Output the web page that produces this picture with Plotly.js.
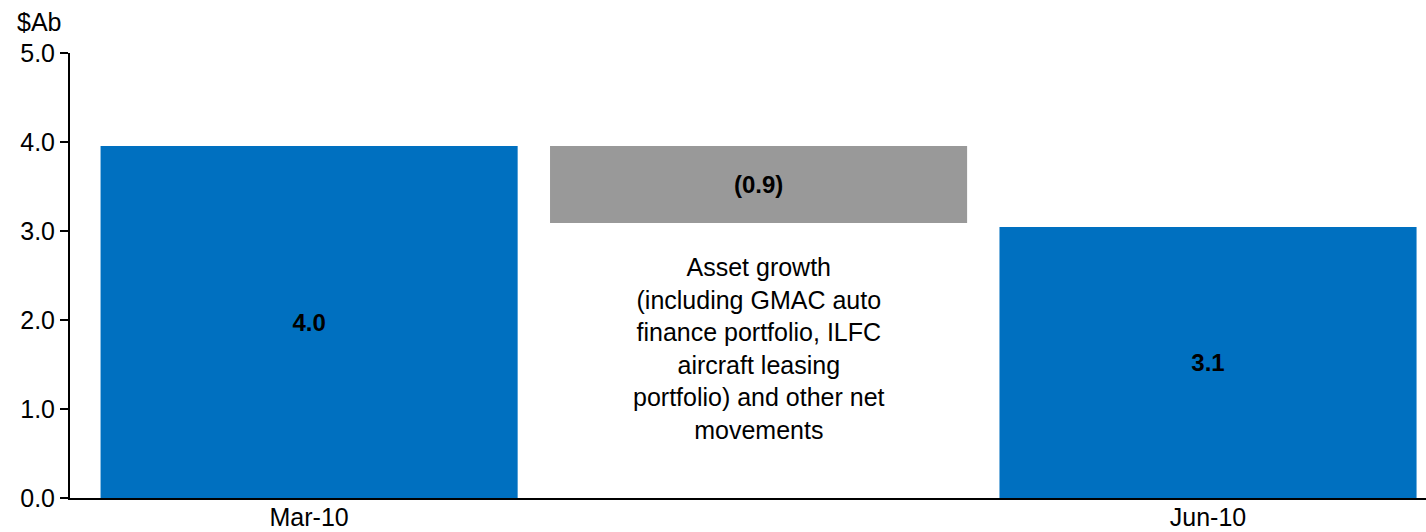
<!DOCTYPE html>
<html>
<head>
<meta charset="utf-8">
<script src="https://cdn.plot.ly/plotly-3.0.1.min.js"></script>
<style>html,body{margin:0;padding:0;background:#fff;}#chart{width:1426px;height:532px;}</style>
</head>
<body>
<div id="chart"></div>
<script>
// Data
const categories = ["Mar-10", "Change", "Jun-10"];
const tickLabels = ["Mar-10", "", "Jun-10"];
const startValue = 3.955;     // Mar-10
const changeValue = -0.865;   // movement
const endValue = 3.045;       // Jun-10
const barLabels = ["4.0", "(0.9)", "3.1"];
const changeNote = "Asset growth<br>(including GMAC auto<br>finance portfolio, ILFC<br>aircraft leasing<br>portfolio) and other net<br>movements";
const unitLabel = "$Ab";

const FONT = "Liberation Sans, Arial, sans-serif";
const blue = "rgb(0,112,192)";
const grey = "rgb(153,153,153)";

const traces = [
  {
    type: "bar",
    x: [categories[0], categories[2]],
    y: [startValue, endValue],
    text: [barLabels[0], barLabels[2]],
    textposition: "inside",
    insidetextanchor: "middle",
    textfont: {family: FONT, size: 24, color: "#000", weight: "bold"},
    marker: {color: blue},
    width: 0.928,
    hoverinfo: "skip"
  },
  {
    type: "bar",
    x: [categories[1]],
    y: [changeValue],
    base: [startValue],
    text: [barLabels[1]],
    textposition: "inside",
    insidetextanchor: "middle",
    textfont: {family: FONT, size: 24, color: "#000", weight: "bold"},
    marker: {color: grey},
    width: 0.928,
    hoverinfo: "skip"
  }
];

const layout = {
  width: 1426,
  height: 532,
  margin: {l: 70, r: 0, t: 53, b: 34, pad: 0},
  paper_bgcolor: "#fff",
  plot_bgcolor: "#fff",
  showlegend: false,
  barmode: "overlay",
  font: {family: FONT, size: 25, color: "#000"},
  xaxis: {
    type: "category",
    categoryorder: "array",
    categoryarray: categories,
    range: [-0.532, 2.485],
    tickvals: categories,
    ticktext: tickLabels,
    ticks: "",
    ticklabelstandoff: -4,
    showgrid: false,
    zeroline: false,
    showline: true,
    linecolor: "#000",
    linewidth: 2,
    tickfont: {family: FONT, size: 25, color: "#000"}
  },
  yaxis: {
    range: [0, 5],
    tickvals: [0, 1, 2, 3, 4, 5],
    tickformat: ".1f",
    ticks: "outside",
    ticklen: 8,
    tickwidth: 2,
    tickcolor: "#000",
    showgrid: false,
    zeroline: false,
    showline: true,
    linecolor: "#000",
    linewidth: 2,
    tickfont: {family: FONT, size: 25, color: "#000"}
  },
  annotations: [
    {
      text: unitLabel,
      xref: "paper", yref: "paper",
      x: -0.0406, y: 1.0697,
      xanchor: "left", yanchor: "middle",
      showarrow: false,
      font: {family: FONT, size: 25, color: "#000"}
    },
    {
      text: changeNote,
      xref: "x", yref: "y",
      x: 1, y: 1.685,
      xanchor: "center", yanchor: "middle",
      align: "center",
      showarrow: false,
      font: {family: FONT, size: 25, color: "#000"}
    }
  ]
};

Plotly.newPlot("chart", traces, layout, {displayModeBar: false, staticPlot: true});
</script>
</body>
</html>
